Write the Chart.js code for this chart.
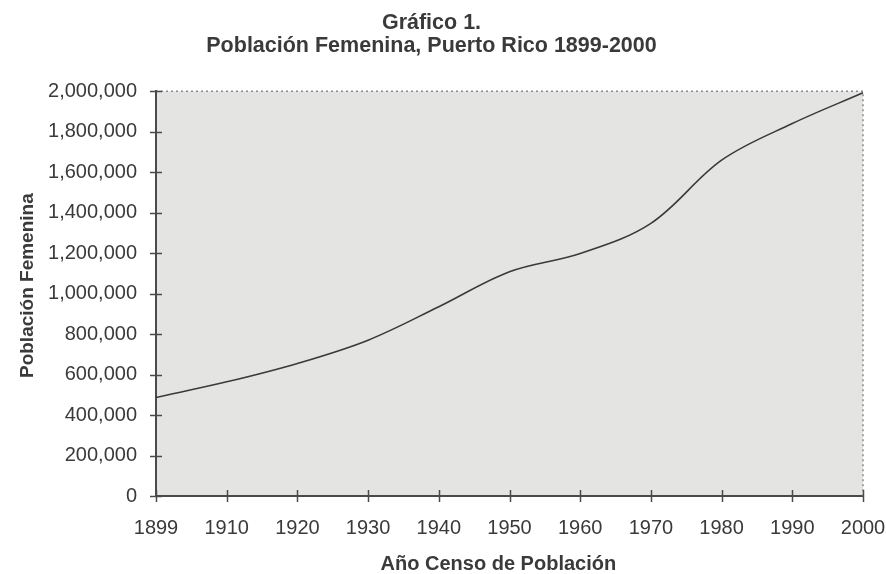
<!DOCTYPE html>
<html>
<head>
<meta charset="utf-8">
<script src="https://cdn.jsdelivr.net/npm/chart.js@4/dist/chart.umd.min.js"></script>
<style>
  html, body { margin: 0; padding: 0; background: #ffffff; }
  #wrap { width: 886px; height: 574px; }
</style>
</head>
<body>
<div id="wrap"><canvas id="c" width="886" height="574"></canvas></div>
<script>
// Census years and female population of Puerto Rico
const years = ['1899', '1910', '1920', '1930', '1940', '1950', '1960', '1970', '1980', '1990', '2000'];
const femalePopulation = [487000, 564000, 655000, 770000, 935000, 1108000, 1198000, 1347000, 1659000, 1840000, 1992000];
const yTickValues = [0, 200000, 400000, 600000, 800000, 1000000, 1200000, 1400000, 1600000, 1800000, 2000000];

const titleLines = ['Gráfico 1.', 'Población Femenina, Puerto Rico 1899-2000'];
// non-breaking spaces nudge the axis titles off the exact axis centre
const xAxisTitle = 'Año Censo de Población\u00a0\u00a0\u00a0\u00a0';
const yAxisTitle = '\u00a0\u00a0\u00a0Población Femenina';

const INK = '#3a3a3a';
const AXIS = '#4a4a4a';
const FONT = "'Liberation Sans', Arial, sans-serif";

// Plot-area background, dotted top/right frame and tick marks that cross the axes
const framePlugin = {
  id: 'frame',
  beforeDraw(chart) {
    const { ctx, chartArea: a } = chart;
    ctx.save();
    ctx.fillStyle = '#e4e4e2';
    ctx.fillRect(a.left, a.top, a.right - a.left, a.bottom - a.top);
    ctx.restore();
  },
  afterDatasetsDraw(chart) {
    const { ctx, chartArea: a, scales } = chart;
    ctx.save();
    // dotted frame
    ctx.strokeStyle = '#8a8a8a';
    ctx.lineWidth = 1.5;
    ctx.setLineDash([2, 3]);
    ctx.beginPath();
    ctx.moveTo(a.left, a.top);
    ctx.lineTo(a.right, a.top);
    ctx.lineTo(a.right, a.bottom);
    ctx.stroke();
    ctx.setLineDash([]);
    // tick marks
    ctx.strokeStyle = AXIS;
    ctx.lineWidth = 1.5;
    const len = 6;
    ctx.beginPath();
    scales.y.ticks.forEach((t, i) => {
      const y = Math.round(scales.y.getPixelForTick(i)) + 0.5;
      ctx.moveTo(a.left - len, y);
      ctx.lineTo(a.left + len, y);
    });
    scales.x.ticks.forEach((t, i) => {
      const x = Math.round(scales.x.getPixelForTick(i)) + 0.5;
      ctx.moveTo(x, a.bottom - len);
      ctx.lineTo(x, a.bottom + len);
    });
    ctx.stroke();
    ctx.restore();
  }
};

new Chart(document.getElementById('c'), {
  type: 'line',
  data: {
    labels: years,
    datasets: [{
      data: femalePopulation,
      borderColor: INK,
      borderWidth: 1.6,
      pointRadius: 0,
      tension: 0.35,
      fill: false
    }]
  },
  options: {
    responsive: false,
    animation: false,
    events: [],
    layout: { padding: { left: 0, right: 23, top: 0, bottom: 0 } },
    plugins: {
      legend: { display: false },
      tooltip: { enabled: false },
      title: {
        display: true,
        text: titleLines,
        color: INK,
        font: { family: FONT, size: 21.5, weight: 'bold', lineHeight: 1.05 },
        padding: { top: 12, bottom: 34 }
      }
    },
    scales: {
      x: {
        type: 'category',
        offset: false,
        grid: { display: true, drawOnChartArea: false, drawTicks: false },
        border: { display: true, color: AXIS, width: 2 },
        ticks: {
          color: INK,
          font: { family: FONT, size: 20 },
          padding: 20,
          maxRotation: 0,
          autoSkip: false
        },
        title: {
          display: true,
          text: xAxisTitle,
          color: INK,
          font: { family: FONT, size: 20, weight: 'bold', lineHeight: 1 },
          padding: { top: 0, bottom: 0 }
        },
        afterFit(scale) {
          scale.height = 78;
          scale.paddingLeft = 0;
          scale.paddingRight = 0;
        }
      },
      y: {
        type: 'linear',
        min: 0,
        max: 2000000,
        afterBuildTicks(scale) {
          scale.ticks = yTickValues.map(v => ({ value: v }));
        },
        grid: { display: true, drawOnChartArea: false, drawTicks: false },
        border: { display: true, color: AXIS, width: 2 },
        ticks: {
          color: INK,
          font: { family: FONT, size: 20 },
          padding: 19,
          callback: v => Number(v).toLocaleString('en-US')
        },
        title: {
          display: true,
          text: yAxisTitle,
          color: INK,
          font: { family: FONT, size: 19, weight: 'bold', lineHeight: 1.2 },
          padding: { top: 16, bottom: 0 }
        },
        afterFit(scale) { scale.width = 156; }
      }
    }
  },
  plugins: [framePlugin]
});
</script>
</body>
</html>
